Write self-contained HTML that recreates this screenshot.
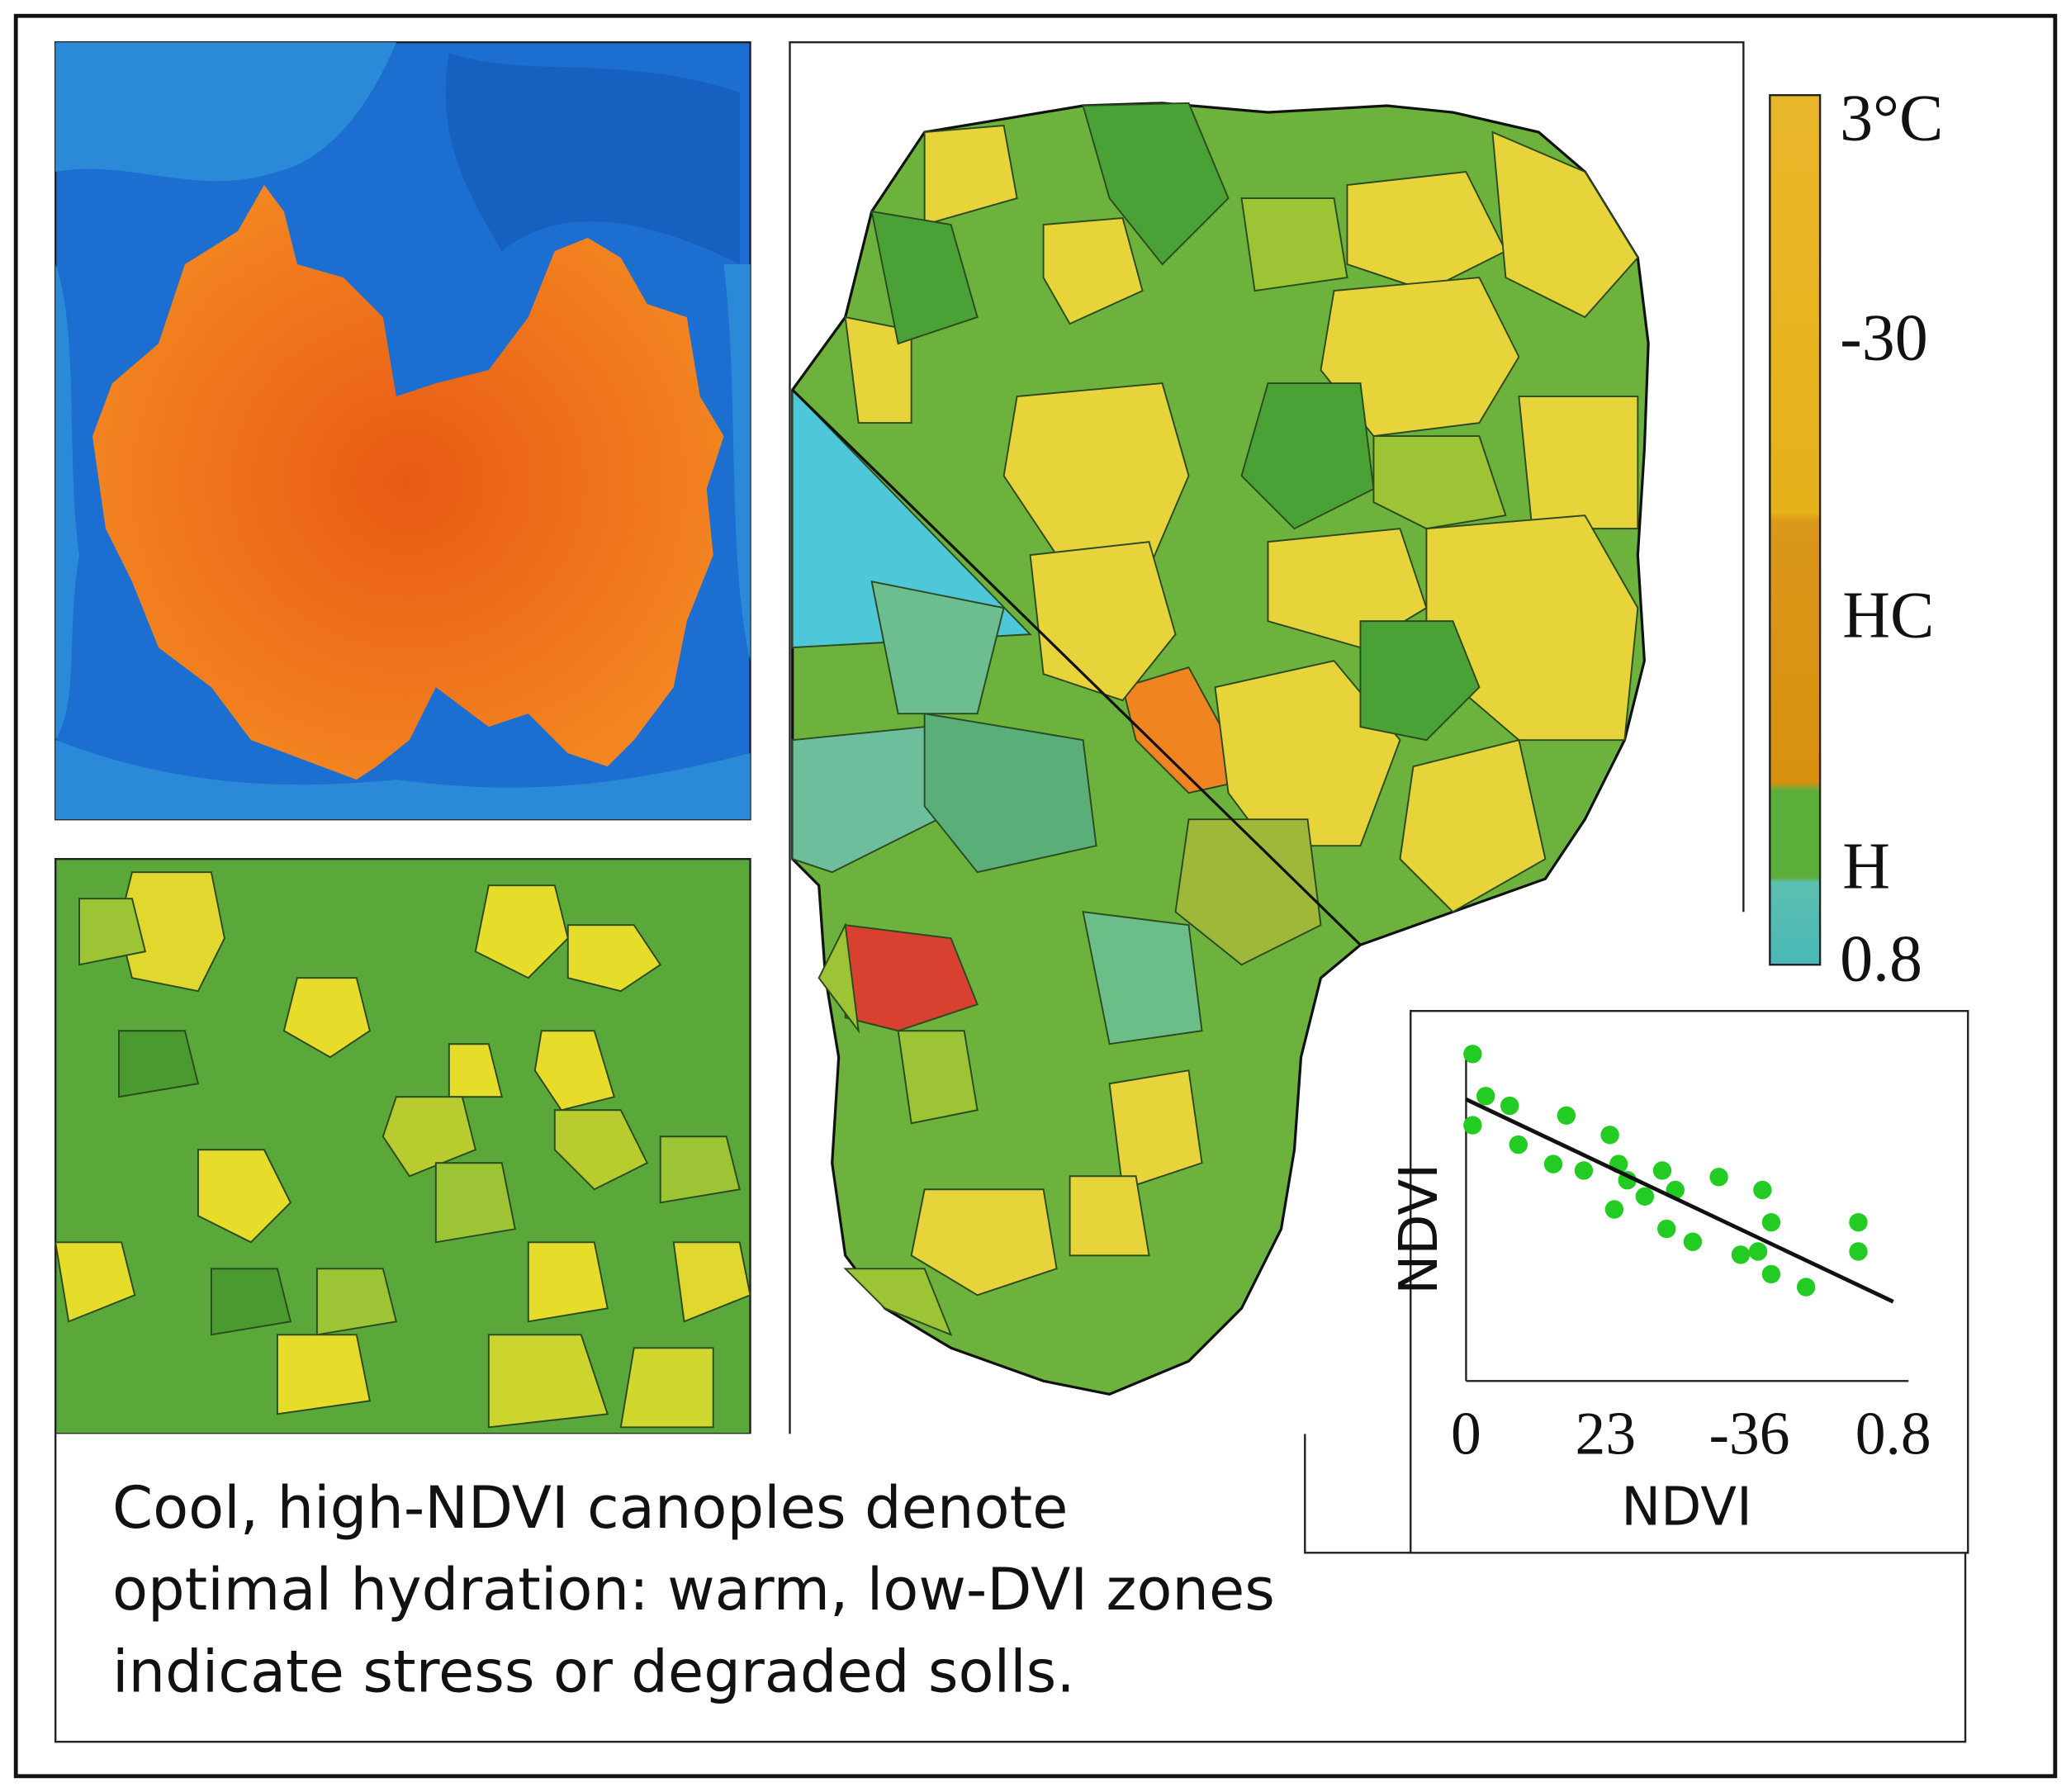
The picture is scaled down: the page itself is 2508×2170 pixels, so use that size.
<!DOCTYPE html>
<html><head><meta charset="utf-8"><style>
html,body{margin:0;padding:0;background:#fff;}
svg{display:block;}
</style></head><body>
<svg width="2508" height="2170" viewBox="0 0 1568 1356" preserveAspectRatio="none" xmlns="http://www.w3.org/2000/svg">
<defs>
<radialGradient id="og" cx="0.5" cy="0.5" r="0.6"><stop offset="0" stop-color="#e85a14"/><stop offset="1" stop-color="#f58a22"/></radialGradient>
<linearGradient id="cb" x1="0" y1="0" x2="0" y2="1">
<stop offset="0" stop-color="#e8b62a"/><stop offset="0.48" stop-color="#e6b21a"/><stop offset="0.49" stop-color="#d9981a"/><stop offset="0.79" stop-color="#d8900f"/><stop offset="0.8" stop-color="#5cae3a"/><stop offset="0.9" stop-color="#5cae3a"/><stop offset="0.905" stop-color="#5cc0b0"/><stop offset="1" stop-color="#4ab8b8"/></linearGradient>
</defs>
<rect x="12" y="12" width="1544" height="1332" fill="#fff" stroke="#111" stroke-width="3"/>

<g>
<rect x="42" y="32" width="526" height="588" fill="#1c6fd0" stroke="#222" stroke-width="1.5"/>
<path d="M42 32 H300 C280 80 250 120 210 130 C150 150 100 120 42 130Z" fill="#2a8ad8"/>
<path d="M340 40 C400 60 470 40 560 70 V200 C500 170 430 150 380 190 C350 140 330 100 340 40Z" fill="#1660c0"/>
<path d="M42 560 C120 590 200 600 300 590 C380 600 450 600 568 570 V620 H42Z" fill="#2a8ad8"/>
<path d="M42 200 C60 250 50 350 60 420 C50 480 60 530 42 560Z" fill="#2a8ad8"/>
<path d="M548 200 C560 300 550 420 568 500 V200Z" fill="#2a8ad8"/>
<path d="M200 140 L215 160 225 200 260 210 290 240 300 300 330 290 370 280 400 240 420 190 445 180 470 195 490 230 520 240 530 300 548 330 535 370 540 420 520 470 510 520 480 560 460 580 430 570 400 540 370 550 330 520 310 560 285 580 270 590 230 575 190 560 160 520 120 490 100 440 80 400 70 330 85 290 120 260 140 200 180 175Z" fill="url(#og)"/>
</g>

<g>
<rect x="42" y="650" width="526" height="435" fill="#5aa83a" stroke="#222" stroke-width="1.5"/>
<g stroke="#2b4a22" stroke-width="1.2">
<path d="M100 660 h60 l10 50 -20 40 -50 -10 -10 -40Z" fill="#e0d82e"/>
<path d="M370 670 h50 l10 40 -30 30 -40 -20Z" fill="#e6dc2a"/>
<path d="M430 700 h50 l20 30 -30 20 -40 -10Z" fill="#e6dc2a"/>
<path d="M225 740 h45 l10 40 -30 20 -35 -20Z" fill="#e8dc2a"/>
<path d="M410 780 h40 l15 50 -40 10 -20 -30Z" fill="#e8dc2a"/>
<path d="M340 790 h30 l10 40 -40 0Z" fill="#e6dc2a"/>
<path d="M150 870 h50 l20 40 -30 30 -40 -20Z" fill="#e8dc2a"/>
<path d="M300 830 h50 l10 40 -50 20 -20 -30Z" fill="#b8cc30"/>
<path d="M420 840 h50 l20 40 -40 20 -30 -30Z" fill="#b8cc30"/>
<path d="M42 940 h50 l10 40 -50 20Z" fill="#e6dc2a"/>
<path d="M400 940 h50 l10 50 -60 10Z" fill="#e6dc2a"/>
<path d="M510 940 h50 l8 40 -50 20Z" fill="#e0d82e"/>
<path d="M210 1010 h60 l10 50 -70 10Z" fill="#e8dc2a"/>
<path d="M370 1010 h70 l20 60 -90 10Z" fill="#ccd42e"/>
<path d="M480 1020 h60 l0 60 -70 0Z" fill="#d0d82e"/>
<path d="M330 880 h50 l10 50 -60 10Z" fill="#9cc434"/>
<path d="M60 680 h40 l10 40 -50 10Z" fill="#9cc434"/>
<path d="M500 860 h50 l10 40 -60 10Z" fill="#9cc434"/>
<path d="M240 960 h50 l10 40 -60 10Z" fill="#9cc434"/>
<path d="M90 780 h50 l10 40 -60 10Z" fill="#4a9a30"/>
<path d="M160 960 h50 l10 40 -60 10Z" fill="#4a9a30"/>
</g>
</g>

<g>
<path d="M598 1085 V32 H1320 V690" fill="none" stroke="#222" stroke-width="1.5"/>
<path d="M600 295 L640 240 660 160 700 100 760 90 820 80 880 78 960 85 1050 80 1100 85 1165 100 1200 130 1240 195 1248 260 1245 340 1240 420 1245 500 1230 560 1200 620 1170 665 1100 690 1030 715 1000 740 985 800 980 870 970 930 940 990 900 1030 840 1055 790 1045 720 1020 670 990 640 950 630 880 635 800 625 740 620 670 600 650Z" fill="#6cb23c" stroke="#111" stroke-width="2"/>
<g stroke="#2b4a22" stroke-width="1.2">
<path d="M600 295 L780 480 L600 490Z" fill="#4ec8d8"/>
<path d="M660 440 L760 460 740 540 680 540Z" fill="#6cbe90"/>
<path d="M600 560 L700 550 710 620 630 660 600 650Z" fill="#6cbe9c"/>
<path d="M700 540 L820 560 830 640 740 660 700 610Z" fill="#5aae78"/>
<path d="M820 690 L900 700 910 780 840 790Z" fill="#6cbe88"/>
<path d="M640 700 L720 710 740 760 680 780 640 770Z" fill="#d84030"/>
<path d="M850 520 L900 505 930 560 945 590 900 600 860 560Z" fill="#f08420"/>
<path d="M700 100 L760 95 770 150 700 170Z" fill="#e6d43a"/>
<path d="M790 170 L850 165 865 220 810 245 790 210Z" fill="#e6d43a"/>
<path d="M1020 140 L1110 130 1140 190 1080 220 1020 200Z" fill="#e6d43a"/>
<path d="M1130 100 L1200 130 1240 195 1200 240 1140 210Z" fill="#e6d43a"/>
<path d="M1010 220 L1120 210 1150 270 1120 320 1040 330 1000 280Z" fill="#e6d43a"/>
<path d="M770 300 L880 290 900 360 870 430 800 420 760 360Z" fill="#e6d43a"/>
<path d="M1150 300 L1240 300 1240 400 1160 400Z" fill="#e6d43a"/>
<path d="M1080 400 L1200 390 1240 460 1230 560 1150 560 1080 500Z" fill="#e6d43a"/>
<path d="M960 410 L1060 400 1080 460 1030 490 960 470Z" fill="#e6d43a"/>
<path d="M920 520 L1010 500 1060 560 1030 640 960 640 930 600Z" fill="#e6d43a"/>
<path d="M1070 580 L1150 560 1170 650 1100 690 1060 650Z" fill="#e6d43a"/>
<path d="M780 420 L870 410 890 480 850 530 790 510Z" fill="#e6d43a"/>
<path d="M840 820 L900 810 910 880 850 900Z" fill="#e6d43a"/>
<path d="M700 900 L790 900 800 960 740 980 690 950Z" fill="#e6d43a"/>
<path d="M810 890 L860 890 870 950 810 950Z" fill="#e6d43a"/>
<path d="M640 240 L690 250 690 320 650 320Z" fill="#e6d43a"/>
<path d="M960 290 L1030 290 1040 370 980 400 940 360Z" fill="#4aa236"/>
<path d="M1030 470 L1100 470 1120 520 1080 560 1030 550Z" fill="#4aa236"/>
<path d="M820 80 L900 78 930 150 880 200 840 150Z" fill="#4aa236"/>
<path d="M660 160 L720 170 740 240 680 260Z" fill="#4aa236"/>
<path d="M900 620 L990 620 1000 700 940 730 890 690Z" fill="#a0b83a"/>
<path d="M680 780 L730 780 740 840 690 850Z" fill="#9cc434"/>
<path d="M940 150 L1010 150 1020 210 950 220Z" fill="#9cc434"/>
<path d="M1040 330 L1120 330 1140 390 1080 400 1040 380Z" fill="#9cc434"/>
<path d="M620 740 L640 700 650 780Z" fill="#9cc434"/>
<path d="M640 960 L700 960 720 1010 670 990Z" fill="#9cc434"/>
</g>
<line x1="600" y1="295" x2="1030" y2="715" stroke="#111" stroke-width="2"/>
</g>

<g>
<rect x="1340" y="72" width="38" height="658" fill="url(#cb)" stroke="#222" stroke-width="1.5"/>
<g font-family="Liberation Serif, serif" font-size="50" fill="#111">
<text x="1393" y="106">3°C</text>
<text x="1393" y="272">-30</text>
<text x="1395" y="482">HC</text>
<text x="1395" y="672">H</text>
<text x="1393" y="742">0.8</text>
</g>
</g>

<g>
<path d="M42 1085 V1318 H1488 V1175 H988 V1085" fill="#fff" stroke="#222" stroke-width="1.5"/>
<g font-family="DejaVu Sans, sans-serif" font-size="44" fill="#111">
<text x="85" y="1156">Cool, high-NDVI canoples denote</text>
<text x="85" y="1218">optimal hydration: warm, low-DVI zones</text>
<text x="85" y="1280">indicate stress or degraded solls.</text>
</g>
</g>

<g>
<rect x="1068" y="765" width="422" height="410" fill="#fff" stroke="#222" stroke-width="1.5"/>
<g id="scatter"></g>
</g>
</svg>
<script>
const xVals=[1.5,1.5,4.5,10,12,20,23,27,33,35,34,37,41,45,46,48,52,58,63,67,68,70,70,78,90,90];
const yVals=[101,79,88,85,73,67,82,65,76,67,53,62,57,65,47,59,43,63,39,40,59,49,33,29,49,40];
const fitLine=[[0,87],[98,24.5]];
const xTickLabels=["0","23","-36","0.8"];
const xTickVals=[0,32,65,98];
const NS="http://www.w3.org/2000/svg";
const X0=1110,X1=1440,Y0=1045,Y1=800;
function sx(v){return X0+(X1-X0)*v/100;}
function sy(v){return Y0-(Y0-Y1)*v/100;}
const g=document.getElementById('scatter');
function mk(t,a){const e=document.createElementNS(NS,t);for(const k in a)e.setAttribute(k,a[k]);g.appendChild(e);return e;}
let e=mk('line',{x1:X0,y1:Y1-5,x2:X0,y2:Y0,stroke:'#222','stroke-width':1.5});


e=mk('line',{x1:X0,y1:Y0,x2:1445,y2:Y0,stroke:'#222','stroke-width':1.5});


xTickLabels.forEach((t,i)=>{
 const tx=mk('text',{x:sx(xTickVals[i]),y:1100,'text-anchor':'middle','font-family':'Liberation Serif, serif','font-size':46,fill:'#111'});
 tx.textContent=t;
 
 
});
let t=mk('text',{x:1277,y:1154,'text-anchor':'middle','font-family':'DejaVu Sans, sans-serif','font-size':40,fill:'#111'});
t.textContent='NDVI';


t=mk('text',{x:0,y:0,'text-anchor':'middle','font-family':'DejaVu Sans, sans-serif','font-size':40,fill:'#111',transform:'translate(1088,930) rotate(-90)'});
t.textContent='NDVI';


xVals.forEach((v,i)=>{
 const c=mk('circle',{cx:sx(v),cy:sy(yVals[i]),r:7,fill:'#22cc22'});
 
 
});
const l=mk('line',{x1:sx(fitLine[0][0]),y1:sy(fitLine[0][1]),x2:sx(fitLine[1][0]),y2:sy(fitLine[1][1]),stroke:'#111','stroke-width':3});


</script>
</body></html>
